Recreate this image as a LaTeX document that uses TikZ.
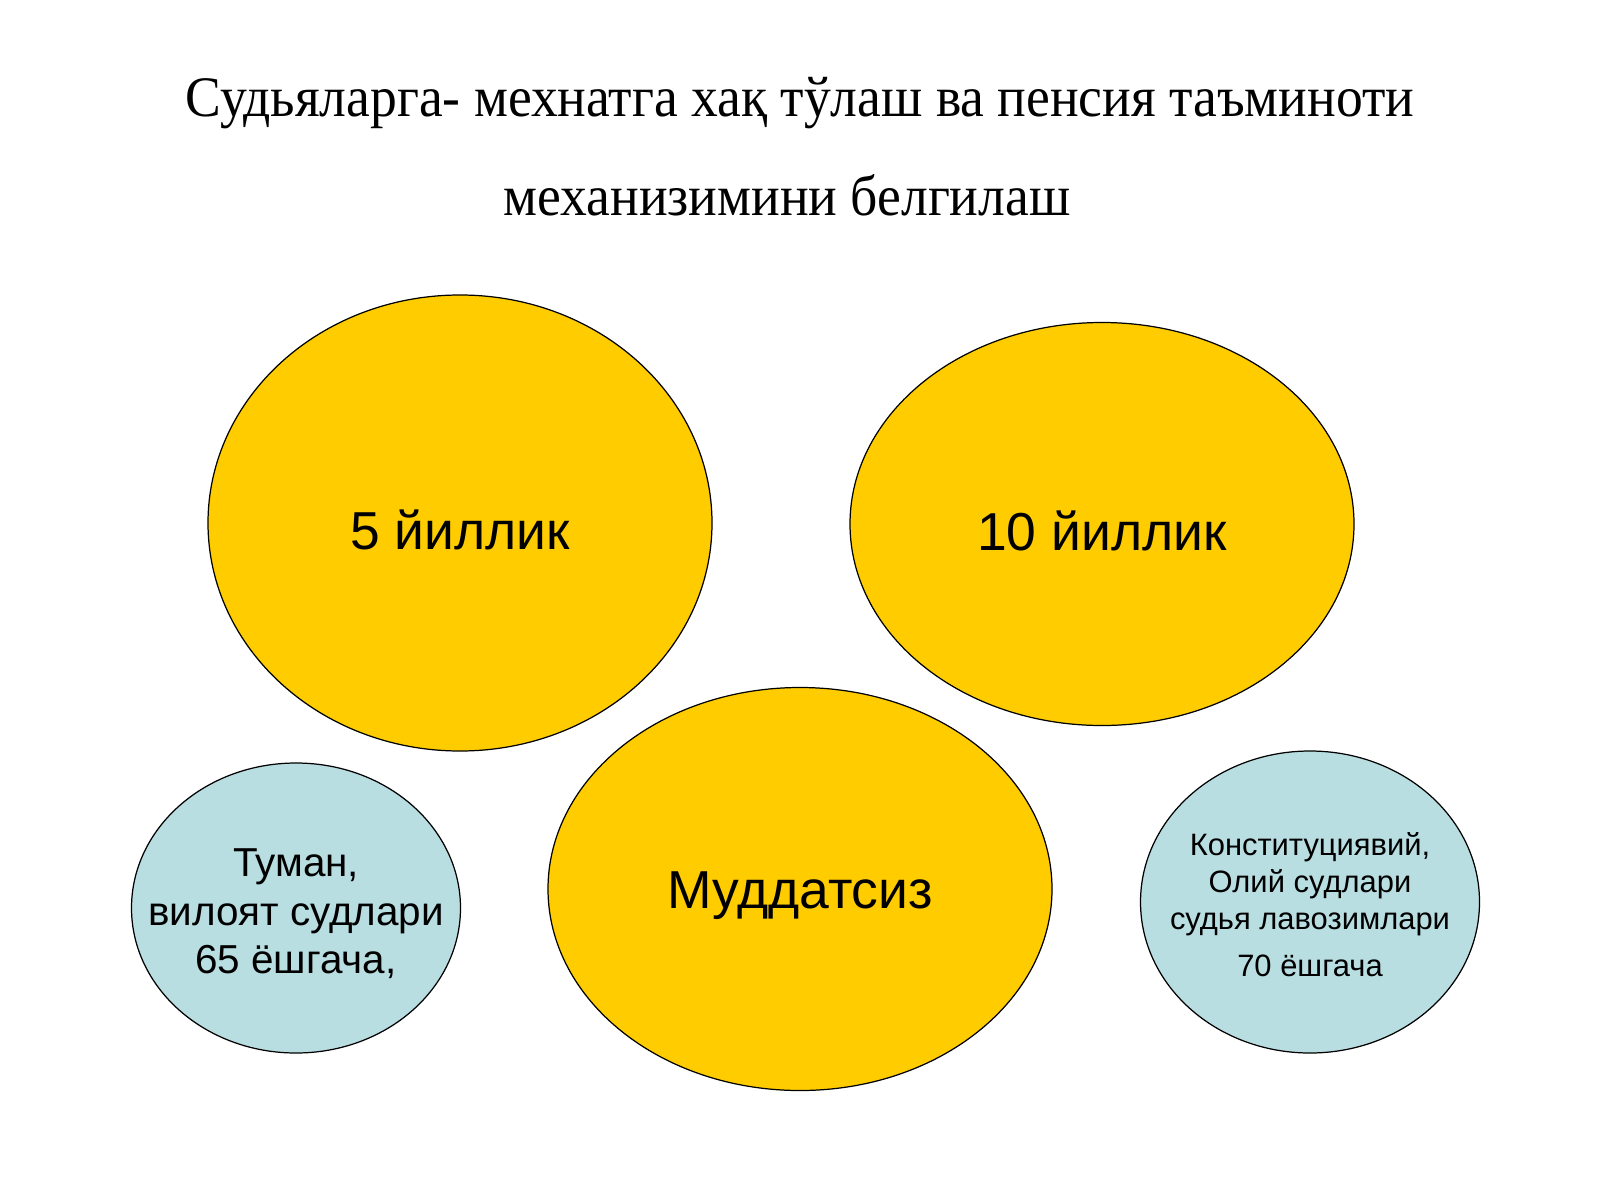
\documentclass[tikz,border=0pt]{standalone}
\usepackage{fontspec}
\setmainfont{Liberation Serif}
\newfontfamily\labelfont{Liberation Sans}
\newfontfamily\titlefont[FakeStretch=0.935]{Liberation Serif}
\usetikzlibrary{shapes.geometric}
\definecolor{goldfill}{RGB}{255,204,0}
\definecolor{agefill}{RGB}{185,222,226}

\begin{document}
\begin{tikzpicture}[
        term/.style={ellipse, draw=black, line width=0.35pt, fill=goldfill, inner sep=0pt},
        age/.style={ellipse, draw=black, line width=0.35pt, fill=agefill, inner sep=0pt},
        termtext/.style={yshift=-0.07cm, font=\labelfont\fontsize{15.2}{18}\selectfont},
        agetext/.style={align=center, inner sep=0pt},
        heading/.style={anchor=base, font=\titlefont\fontsize{16.3}{20}\selectfont}
    ]
        % Fix the page size
        \useasboundingbox (0,0) rectangle (16,12);

        % Draw the title
        \node[heading] (title1) at (8.00,10.83) {Судьяларга- мехнатга хақ тўлаш ва пенсия таъминоти};
        \node[heading] (title2) at (7.87,9.84) {механизимини белгилаш};

        % Draw the yellow ellipses
        \node[term, minimum width=5.04cm, minimum height=4.56cm] (five) at (4.60,6.77) {};
        \node[term, minimum width=5.04cm, minimum height=4.03cm] (ten) at (11.02,6.76) {};
        \node[term, minimum width=5.04cm, minimum height=4.03cm] (indef) at (8.00,3.11) {};
        \node[termtext] (fivetext) at (five) {5 йиллик};
        \node[termtext] (tentext) at (ten) {10 йиллик};
        \node[termtext] (indeftext) at (indef) {Муддатсиз};

        % Draw the blue ellipses
        \node[age, minimum width=3.29cm, minimum height=2.90cm] (district) at (2.96,2.92) {};
        \node[age, minimum width=3.39cm, minimum height=3.02cm] (supreme) at (13.10,2.98) {};
        \node[agetext, yshift=-0.06cm, font=\labelfont\fontsize{11.5}{13.8}\selectfont] (districttext) at (district)
              {Туман,\\ вилоят судлари\\ 65 ёшгача,};
        \node[agetext, yshift=-0.03cm, font=\labelfont\fontsize{8.8}{10.5}\selectfont] (supremetext) at (supreme)
              {Конституциявий,\\ Олий судлари\\ судья лавозимлари\\[2.9pt] 70 ёшгача};
    \end{tikzpicture}
\end{document}
